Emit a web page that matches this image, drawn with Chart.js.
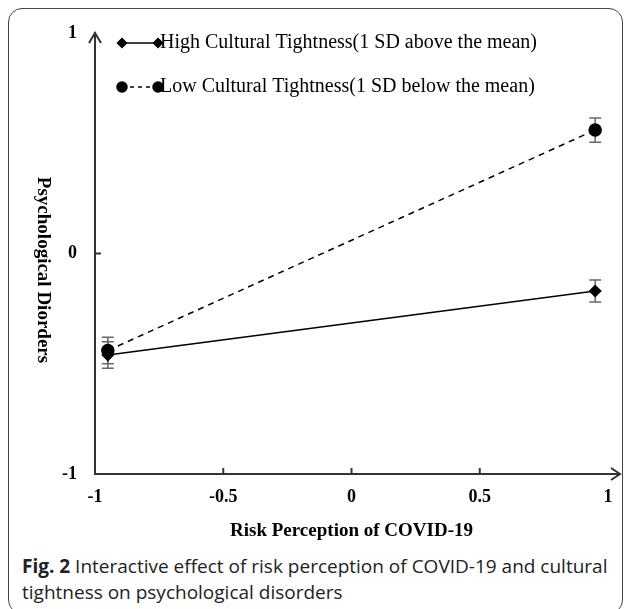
<!DOCTYPE html>
<html>
<head>
<meta charset="utf-8">
<script src="https://cdn.jsdelivr.net/npm/chart.js@4"></script>
<style>
  body { margin: 0; background: #fff; }
  #wrap { position: relative; width: 630px; height: 609px; overflow: hidden; }
  #frame { position: absolute; left: 8px; top: 8px; width: 615px; height: 606px; border: 1.5px solid #444; border-radius: 14px; box-sizing: border-box; }
  #chartBox { position: absolute; left: 0; top: 0; width: 630px; height: 545px; }
  #caption { position: absolute; left: 22px; top: 553px; width: 604px; font-family: 'Open Sans'; font-size: 19px; line-height: 26px; color: #222; }
</style>
</head>
<body>
<div id="wrap">
  <div id="frame"></div>
  <div id="chartBox"><canvas id="myChart"></canvas></div>
  <div id="caption"><b>Fig. 2</b> Interactive effect of risk perception of COVID-19 and cultural tightness on psychological disorders</div>
</div>
<script>
// values
const xLevels = [-0.95, 0.95];
const highValues = [-0.46, -0.17];
const lowValues = [-0.44, 0.56];
const highErrors = [0.06, 0.05];
const lowErrors = [0.06, 0.055];
const xTicks = [-1, -0.5, 0, 0.5, 1];
const yTicks = [-1, 0, 1];
const seriesNames = ['High Cultural Tightness(1 SD above the mean)', 'Low Cultural Tightness(1 SD below the mean)'];
const xTitle = 'Risk Perception of COVID-19';
const yTitle = 'Psychological Diorders';

const serif = "'Liberation Serif', 'Times New Roman', serif";

function pts(vals){
    return vals.map((v, i) => ({x: xLevels[i], y: v}));
};

// error bars, inner ticks, arrows, rotated y title and the legend
const decor = {
    id: 'decor',
    beforeDatasetsDraw(chart){
        const c = chart.ctx;
        const xs = chart.scales.x, ys = chart.scales.y;
        const errs = [highErrors, lowErrors];
        c.save();
        c.strokeStyle = '#666';
        c.lineWidth = 1.5;
        chart.data.datasets.forEach((ds, d) => {
            ds.data.forEach((p, i) => {
                const px = xs.getPixelForValue(p.x);
                const y1 = ys.getPixelForValue(p.y + errs[d][i]);
                const y2 = ys.getPixelForValue(p.y - errs[d][i]);
                c.beginPath();
                c.moveTo(px, y1); c.lineTo(px, y2);
                c.moveTo(px - 6, y1); c.lineTo(px + 6, y1);
                c.moveTo(px - 6, y2); c.lineTo(px + 6, y2);
                c.stroke();
            });
        });
        c.restore();
    },
    afterDraw(chart){
        const c = chart.ctx;
        const a = chart.chartArea;
        const xs = chart.scales.x, ys = chart.scales.y;
        c.save();
        c.strokeStyle = '#333';
        c.lineWidth = 2;
        c.beginPath();
        // inner ticks
        xTicks.slice(1, -1).forEach(v => {
            const px = xs.getPixelForValue(v);
            c.moveTo(px, a.bottom); c.lineTo(px, a.bottom - 6);
        });
        yTicks.slice(1, -1).forEach(v => {
            const py = ys.getPixelForValue(v);
            c.moveTo(a.left, py); c.lineTo(a.left + 6, py);
        });
        // arrows
        c.moveTo(a.left - 6, a.top + 10); c.lineTo(a.left, a.top); c.lineTo(a.left + 6, a.top + 10);
        c.moveTo(a.right, a.bottom); c.lineTo(a.right + 12, a.bottom);
        c.moveTo(a.right + 3, a.bottom - 6); c.lineTo(a.right + 12, a.bottom); c.lineTo(a.right + 3, a.bottom + 6);
        c.stroke();

        // y title, reading downwards
        c.fillStyle = '#000';
        c.font = 'bold 19px ' + serif;
        c.textAlign = 'center';
        c.textBaseline = 'middle';
        c.translate(43, 270);
        c.rotate(Math.PI / 2);
        c.fillText(yTitle, 0, 0);
        c.restore();

        // legend
        c.save();
        c.font = '20px ' + serif;
        c.textBaseline = 'middle';
        c.fillStyle = '#000';
        c.strokeStyle = '#000';
        c.lineWidth = 1.5;
        const rows = [43, 87];
        rows.forEach((ry, k) => {
            const ds = chart.data.datasets[k];
            c.beginPath();
            c.setLineDash(k == 1 ? [4, 4] : []);
            c.moveTo(122, ry); c.lineTo(158, ry);
            c.stroke();
            c.setLineDash([]);
            [122, 158].forEach(mx => {
                Chart.helpers.drawPoint(c, {pointStyle: ds.pointStyle, radius: k == 1 ? 5 : 4.5, borderWidth: 1}, mx, ry);
                c.fill();
            });
            c.fillText(seriesNames[k], 160, ry);
        });
        c.restore();
    }
};

const ctx = document.getElementById('myChart').getContext('2d');
const myChart = new Chart(ctx, {
    type: 'scatter',
    data: {
        datasets: [{
            label: seriesNames[0],
            data: pts(highValues),
            showLine: true,
            borderColor: '#000',
            backgroundColor: '#000',
            borderWidth: 1.5,
            pointStyle: 'rectRot',
            pointRadius: 5.5,
            pointHoverRadius: 5.5
        },
        {
            label: seriesNames[1],
            data: pts(lowValues),
            showLine: true,
            borderColor: '#000',
            backgroundColor: '#000',
            borderWidth: 1.5,
            borderDash: [6, 5],
            pointStyle: 'circle',
            pointRadius: 6,
            pointHoverRadius: 6
        }]
    },
    options: {
        responsive: true,
        maintainAspectRatio: false,
        animation: false,
        layout: {
            padding: {left: 0, top: 33, right: 22, bottom: 0}
        },
        plugins: {
            legend: {display: false},
            tooltip: {enabled: false}
        },
        scales: {
            x: {
                type: 'linear',
                min: -1,
                max: 1,
                afterBuildTicks: s => { s.ticks = xTicks.map(v => ({value: v})); },
                afterFit: s => { s.height = 71; },
                grid: {display: false, drawTicks: false},
                border: {display: true, color: '#333', width: 2},
                ticks: {
                    padding: 13,
                    color: '#000',
                    font: {family: serif, size: 18, weight: 'bold'},
                    callback: v => String(v)
                },
                title: {
                    display: true,
                    text: xTitle,
                    color: '#000',
                    font: {family: serif, size: 19, weight: 'bold'},
                    padding: {top: 0, bottom: 3}
                }
            },
            y: {
                type: 'linear',
                min: -1,
                max: 1,
                afterBuildTicks: s => { s.ticks = yTicks.map(v => ({value: v})); },
                afterFit: s => { s.width = 95; },
                grid: {display: false, drawTicks: false},
                border: {display: true, color: '#333', width: 2},
                ticks: {
                    padding: 18,
                    color: '#000',
                    font: {family: serif, size: 18, weight: 'bold'},
                    callback: v => String(v)
                }
            }
        }
    },
    plugins: [decor]
});
</script>
</body>
</html>
